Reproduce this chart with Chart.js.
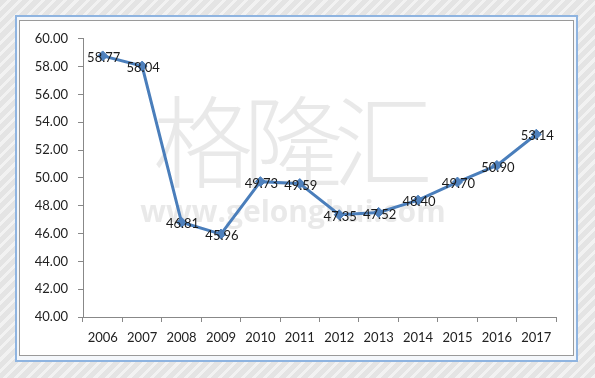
<!DOCTYPE html>
<html>
<head>
<meta charset="utf-8">
<script src="https://cdn.jsdelivr.net/npm/chart.js@4.4.0/dist/chart.umd.min.js"></script>
<style>
  html, body { margin: 0; padding: 0; }
  body {
    width: 595px; height: 378px; overflow: hidden; position: relative;
    background: repeating-linear-gradient(135deg, #e4e4e4 0px, #e4e4e4 5px, #f2f2f2 5px, #f2f2f2 8px);
  }
  #frame {
    position: absolute; left: 15px; top: 15px; width: 559px; height: 343px;
    border: 2px solid #8fb4e0; background: #f4f7fb;
  }
  #panel {
    position: absolute; left: 19px; top: 20px; width: 553px; height: 334px;
    border: 1px solid #9a9a9a; background: #ffffff;
  }
  canvas { display: block; }
</style>
</head>
<body>
<div id="frame"></div>
<div id="panel"><canvas id="chart" width="553" height="334"></canvas></div>
<script>
// Chart values
const years = ['2006', '2007', '2008', '2009', '2010', '2011', '2012', '2013', '2014', '2015', '2016', '2017'];
const values = [58.77, 58.04, 46.81, 45.96, 49.73, 49.59, 47.35, 47.52, 48.40, 49.70, 50.90, 53.14];
const yMin = 40;
const yMax = 60;
const yStep = 2;

const fontFamily = 'Lato, "Open Sans", sans-serif';

// faint watermark behind the line
const watermark = {
  id: 'watermark',
  beforeDatasetsDraw(chart) {
    const ctx = chart.ctx;
    ctx.save();
    ctx.fillStyle = 'rgba(200,200,200,0.4)';
    ctx.textAlign = 'center';
    ctx.textBaseline = 'middle';
    ctx.font = '300 100px "Noto Sans CJK SC", sans-serif';
    const chars = ['格', '隆', '汇'];
    chars.forEach((c, i) => ctx.fillText(c, 183 + i * 90, 121));
    ctx.font = 'bold 30px "Open Sans", sans-serif';
    ctx.fillText('www.gelonghui.com', 273, 192);
    ctx.restore();
  }
};

// value labels drawn centered on each point
const pointLabels = {
  id: 'pointLabels',
  afterDatasetsDraw(chart) {
    const ctx = chart.ctx;
    const meta = chart.getDatasetMeta(0);
    ctx.save();
    ctx.font = '13px ' + fontFamily;
    ctx.fillStyle = '#1a1a1a';
    ctx.textAlign = 'center';
    ctx.textBaseline = 'middle';
    meta.data.forEach((pt, i) => {
      ctx.fillText(values[i].toFixed(2), pt.x + 1, pt.y + 2);
    });
    ctx.restore();
  }
};

const ctx = document.getElementById('chart').getContext('2d');
new Chart(ctx, {
  type: 'line',
  data: {
    labels: years,
    datasets: [{
      data: values,
      borderColor: '#4a7ebb',
      borderWidth: 3,
      tension: 0,
      pointStyle: 'rectRot',
      pointRadius: 5,
      pointBackgroundColor: '#4f81bd',
      pointBorderColor: '#4a7ebb',
      pointBorderWidth: 1
    }]
  },
  options: {
    responsive: false,
    animation: false,
    layout: { padding: { top: 17, right: 17, left: 0, bottom: 0 } },
    plugins: {
      legend: { display: false },
      tooltip: { enabled: false }
    },
    scales: {
      x: {
        offset: true,
        grid: { display: true, drawOnChartArea: false, offset: true, tickLength: 5, color: '#888888' },
        border: { display: true, color: '#888888' },
        ticks: { color: '#222222', font: { size: 13, family: fontFamily }, padding: 8, maxRotation: 0 },
        afterFit(scale) { scale.height = 38; }
      },
      y: {
        min: yMin,
        max: yMax,
        grid: { display: true, drawOnChartArea: false, tickLength: 5, color: '#888888' },
        border: { display: true, color: '#888888' },
        ticks: {
          stepSize: yStep,
          color: '#222222',
          font: { size: 13, family: fontFamily },
          padding: 10,
          callback: v => Number(v).toFixed(2)
        },
        afterFit(scale) { scale.width = 63; }
      }
    }
  },
  plugins: [watermark, pointLabels]
});
</script>
</body>
</html>
